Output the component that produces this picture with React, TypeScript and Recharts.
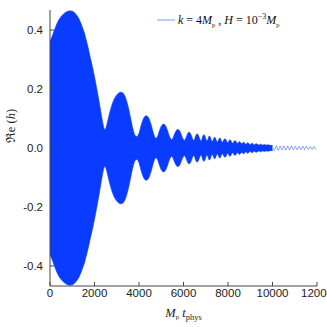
import { ComposedChart, Area, Line, XAxis, YAxis, Label } from 'recharts';

// tick values
const xTicks = [0, 2000, 4000, 6000, 8000, 10000, 12000];
const yTicks = [-0.4, -0.2, 0, 0.2, 0.4];

// the fast oscillation is far below pixel resolution, so it shows as a filled band;
// amplitude of the band read every 50 units from 0 to 10000
const step = 50;
const envelope = [
  0.36, 0.37, 0.38, 0.39, 0.4, 0.41, 0.42, 0.428, 0.435, 0.441,
  0.446, 0.45, 0.454, 0.457, 0.46, 0.462, 0.464, 0.465, 0.465, 0.465,
  0.464, 0.462, 0.459, 0.455, 0.45, 0.445, 0.438, 0.43, 0.421, 0.411,
  0.4, 0.39, 0.375, 0.36, 0.345, 0.328, 0.31, 0.295, 0.278, 0.26,
  0.242, 0.222, 0.202, 0.182, 0.16, 0.138, 0.116, 0.094, 0.074, 0.062,
  0.065, 0.078, 0.094, 0.11, 0.125, 0.138, 0.15, 0.16, 0.168, 0.175,
  0.18, 0.184, 0.187, 0.189, 0.189, 0.188, 0.185, 0.179, 0.17, 0.158,
  0.144, 0.128, 0.11, 0.092, 0.074, 0.058, 0.046, 0.04, 0.038, 0.042,
  0.05, 0.064, 0.078, 0.09, 0.1, 0.106, 0.109, 0.109, 0.106, 0.1,
  0.09, 0.078, 0.064, 0.05, 0.039, 0.033, 0.034, 0.042, 0.054, 0.065,
  0.074, 0.079, 0.081, 0.08, 0.075, 0.066, 0.055, 0.043, 0.034, 0.029,
  0.03, 0.038, 0.048, 0.056, 0.062, 0.063, 0.061, 0.055, 0.046, 0.036,
  0.028, 0.026, 0.032, 0.042, 0.051, 0.054, 0.051, 0.043, 0.032, 0.025,
  0.03, 0.042, 0.048, 0.046, 0.037, 0.026, 0.024, 0.036, 0.045, 0.043,
  0.032, 0.022, 0.03, 0.041, 0.038, 0.026, 0.02, 0.031, 0.037, 0.031,
  0.02, 0.022, 0.032, 0.034, 0.025, 0.018, 0.026, 0.031, 0.03, 0.02,
  0.017, 0.026, 0.028, 0.022, 0.015, 0.02, 0.025, 0.024, 0.016, 0.016,
  0.022, 0.02, 0.014, 0.016, 0.02, 0.017, 0.012, 0.016, 0.018, 0.014,
  0.011, 0.015, 0.016, 0.012, 0.011, 0.014, 0.014, 0.011, 0.01, 0.013,
  0.012, 0.01, 0.011, 0.012, 0.01, 0.01, 0.011, 0.01, 0.009, 0.009,
  0.009,
];

// resolved tail after 10000: individual swings, sampled at each extremum
const tailStart = 10000;
const tailStep = 85;
const tailEnvelope = [
  0.008, 0.008, 0.008, 0.007, 0.007, 0.007, 0.007, 0.007, 0.007, 0.007,
  0.006, 0.006, 0.006, 0.006, 0.006, 0.006, 0.006, 0.006, 0.005, 0.005,
  0.005, 0.005, 0.005,
];

const bandData = envelope.map((a, i) => ({ t: i * step, band: [-a, a] }));
const tailData = [{ t: tailStart, h: 0 }].concat(
  tailEnvelope.map((a, i) => ({ t: tailStart + (i + 1) * tailStep, h: i % 2 === 0 ? -a : a }))
);

const BLUE = '#0a3cff';
const serif = '"Liberation Serif", "DejaVu Serif", serif';
const sans = '"Liberation Sans", Arial, sans-serif';

const XLabel = (props: any) => {
  const { x, y, width } = props.viewBox;
  return (
    <text x={x + width / 2} y={y + 31} textAnchor="middle" fontFamily={serif} fontSize={12.5} fill="#222">
      <tspan fontStyle="italic">M</tspan>
      <tspan fontSize={7} dy={2}>p</tspan>
      <tspan dy={-2}> </tspan>
      <tspan fontStyle="italic">t</tspan>
      <tspan fontSize={8.5} dy={2.5}>phys</tspan>
    </text>
  );
};

const YLabel = () => (
  <text x={15} y={126} transform="rotate(-90 15 126)" textAnchor="middle" fontFamily={serif} fontSize={12.5} fill="#222">
    ℜe (<tspan fontStyle="italic">h</tspan>)
  </text>
);

const LegendBox = () => (
  <div
    style={{
      position: 'absolute',
      left: 157,
      top: 12,
      display: 'flex',
      alignItems: 'center',
      fontFamily: serif,
      fontSize: 12,
      lineHeight: '16px',
      color: '#111',
      whiteSpace: 'nowrap',
    }}
  >
    <svg width={18} height={6} style={{ marginRight: 3 }}>
      <line x1={0} y1={3} x2={18} y2={3} stroke="#7b95ff" strokeWidth={1} />
    </svg>
    <span>
      <i>k</i> = 4<i>M</i><sub style={{ fontSize: 6.5, lineHeight: 0 }}>p</sub> , <i>H</i> = 10
      <sup style={{ fontSize: 8, lineHeight: 0 }}>−3</sup>
      <i>M</i><sub style={{ fontSize: 6.5, lineHeight: 0 }}>p</sub>
    </span>
  </div>
);

export default function App() {
  return (
    <div style={{ position: 'absolute', left: 0, top: 0, width: 327, height: 327, background: '#fff' }}>
      <ComposedChart width={327} height={327} margin={{ top: 10, right: 10, bottom: 0, left: 0 }}>
        <XAxis
          dataKey="t"
          type="number"
          domain={[0, 12000]}
          ticks={xTicks}
          interval={0}
          allowDataOverflow
          height={41}
          tickSize={-4}
          tickMargin={7}
          tickLine={{ stroke: '#444' }}
          axisLine={{ stroke: '#444' }}
          tick={{ fill: '#222', fontSize: 11.5, fontFamily: sans }}
        >
          <Label content={XLabel} />
        </XAxis>
        <XAxis xAxisId="top" orientation="top" type="number" domain={[0, 12000]} height={0} tick={false} tickLine={false} axisLine={{ stroke: '#444' }} />
        <YAxis
          type="number"
          domain={[-0.468, 0.468]}
          ticks={yTicks}
          allowDataOverflow
          width={50}
          tickSize={-4}
          tickMargin={11}
          tickFormatter={(v: number) => v.toFixed(1)}
          tickLine={{ stroke: '#444' }}
          axisLine={{ stroke: '#444' }}
          tick={{ fill: '#222', fontSize: 11.5, fontFamily: sans }}
        >
          <Label content={YLabel} />
        </YAxis>
        <YAxis yAxisId="right" orientation="right" type="number" domain={[-0.468, 0.468]} width={0} tick={false} tickLine={false} axisLine={{ stroke: '#444' }} />
        <Area
          data={bandData}
          dataKey="band"
          type="linear"
          stroke={BLUE}
          strokeWidth={0.6}
          fill={BLUE}
          fillOpacity={1}
          dot={false}
          activeDot={false}
          isAnimationActive={false}
        />
        <Line data={tailData} dataKey="h" stroke={BLUE} strokeWidth={0.6} strokeOpacity={0.8} dot={false} isAnimationActive={false} />
      </ComposedChart>
      <LegendBox />
    </div>
  );
}
